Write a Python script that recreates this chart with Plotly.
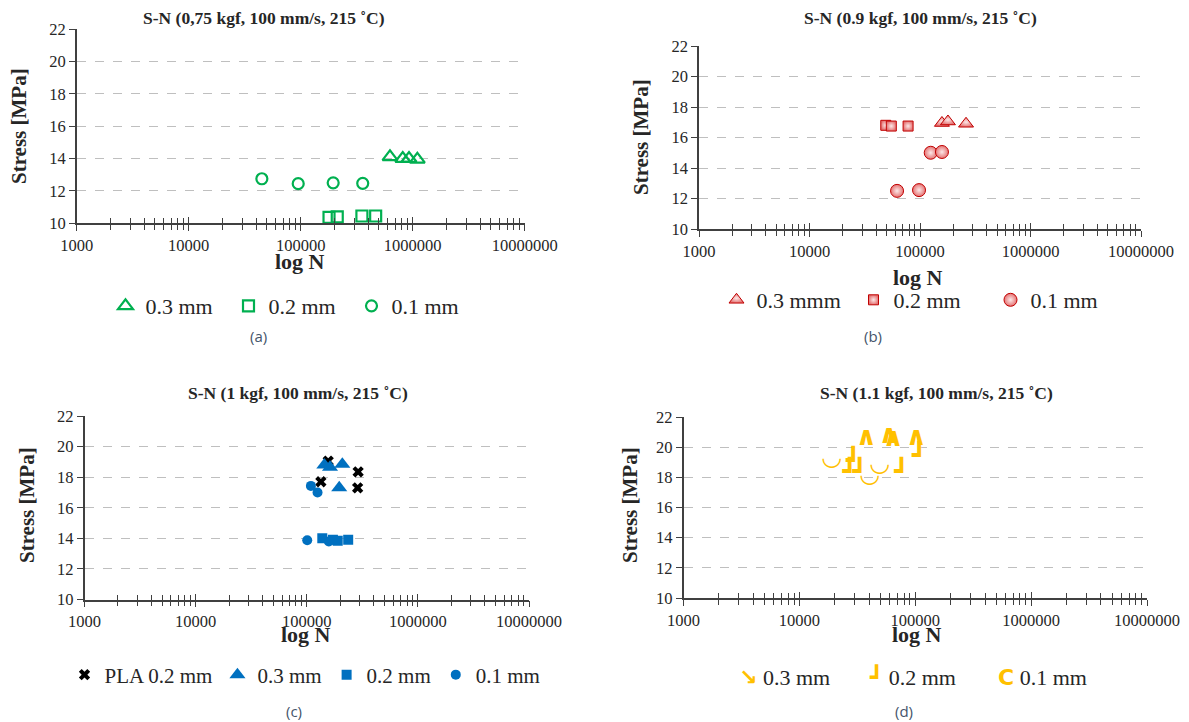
import plotly.graph_objects as go

# ---------------- data ----------------
# (a) 0,75 kgf
a_03_N = [627000, 815000, 927000, 1100000]
a_03_S = [14.1, 14.0, 14.0, 13.95]
a_02_N = [179000, 212000, 352000, 467000]
a_02_S = [10.37, 10.4, 10.45, 10.45]
a_01_N = [45000, 95000, 195000, 358000]
a_01_S = [12.75, 12.45, 12.5, 12.47]

# (b) 0.9 kgf
b_03_N = [158000, 179000, 261000]
b_03_S = [16.95, 17.05, 16.9]
b_02_N = [49000, 55000, 78000]
b_02_S = [16.8, 16.75, 16.75]
b_01_N = [62000, 98000, 125000, 158000]
b_01_S = [12.5, 12.55, 15.0, 15.05]

# (c) 1 kgf
c_pla_N = [156000, 134000, 290000, 287000]
c_pla_S = [19.05, 17.7, 18.35, 17.3]
c_03_N = [144000, 162000, 209000, 196000]
c_03_S = [18.8, 18.65, 18.85, 17.3]
c_02_N = [138000, 172000, 190000, 236000]
c_02_S = [14.0, 13.9, 13.85, 13.9]
c_01_N = [109000, 125000, 101000, 158000]
c_01_S = [17.43, 17.0, 13.88, 13.8]

# (d) 1.1 kgf
d_03_N = [37900, 59400, 64500, 102000]
d_03_S = [20.55, 20.7, 20.5, 20.6]
d_02_N = [29100, 27200, 33200, 76000, 108000]
d_02_S = [19.05, 18.3, 18.27, 18.27, 19.35]
d_01_N = [19000, 49400, 40500]
d_01_S = [19.2, 18.82, 18.1]

x_tick_vals = [1000, 10000, 100000, 1000000, 10000000]
x_tick_text = ["1000", "10000", "100000", "1000000", "10000000"]
y_tick_vals = [10, 12, 14, 16, 18, 20, 22]

titles = ["S-N (0,75 kgf, 100 mm/s, 215 ˚C)", "S-N (0.9 kgf, 100 mm/s, 215 ˚C)",
          "S-N (1 kgf, 100 mm/s, 215 ˚C)", "S-N (1.1 kgf, 100 mm/s, 215 ˚C)"]
captions = ["(a)", "(b)", "(c)", "(d)"]

# ---------------- layout geometry (pixels) ----------------
W, H = 1189, 722
# plot areas: left, right, top, bottom
areas = [(76.7, 524.7, 29, 223.3),
         (699, 1141, 46, 229),
         (84.5, 529, 416, 599.5),
         (683.5, 1147, 417, 598)]
title_pos = [(264, 18), (920, 18), (298, 393), (936, 393)]
logn_pos = [(300, 261), (918, 277), (306, 634), (917, 634)]
stress_pos = [(19, 126), (641, 137), (27, 505), (630, 505)]
cap_pos = [(258, 336), (873, 336), (294, 711), (904, 711)]

SERIF = "Liberation Serif"
TXT = "#262626"
AX = "#404040"

minor_vals = [m * 10 ** e for e in range(3, 7) for m in range(2, 10)]

def px(x):
    return x / W

def py(y):
    return 1 - y / H

fig = go.Figure()
GREEN = "#00B050"
RED = "#C00000"
BLUE = "#0070C0"
GOLD = "#FFC000"

# (a)
fig.add_trace(go.Scatter(x=a_03_N, y=a_03_S, mode="markers", name="0.3 mm", legend="legend",
                         marker=dict(symbol="triangle-up-open", size=13, color=GREEN, line=dict(width=2.2, color=GREEN)),
                         xaxis="x", yaxis="y"))
fig.add_trace(go.Scatter(x=a_02_N, y=a_02_S, mode="markers", name="0.2 mm", legend="legend",
                         marker=dict(symbol="square-open", size=11, color=GREEN, line=dict(width=2.2, color=GREEN)),
                         xaxis="x", yaxis="y"))
fig.add_trace(go.Scatter(x=a_01_N, y=a_01_S, mode="markers", name="0.1 mm", legend="legend",
                         marker=dict(symbol="circle-open", size=11, color=GREEN, line=dict(width=2.2, color=GREEN)),
                         xaxis="x", yaxis="y"))
# (b)
for xs, ys, sym, sz, nm in [(b_03_N, b_03_S, "triangle-up", 13, "0.3 mmm"),
                            (b_02_N, b_02_S, "square", 10, "0.2 mm"),
                            (b_01_N, b_01_S, "circle", 13, "0.1 mm")]:
    fig.add_trace(go.Scatter(x=xs, y=ys, mode="markers", name=nm, legend="legend2",
                             marker=dict(symbol=sym, size=sz, color="#E57373",
                                         gradient=dict(type="radial", color="#FCE8E8"),
                                         line=dict(width=1, color=RED)),
                             xaxis="x2", yaxis="y2"))
# (c)
fig.add_trace(go.Scatter(x=c_pla_N, y=c_pla_S, mode="markers", name="PLA 0.2 mm", legend="legend3",
                         marker=dict(symbol="x", size=10, color="black", line=dict(width=0)),
                         xaxis="x3", yaxis="y3"))
for xs, ys, sym, sz, nm in [(c_03_N, c_03_S, "triangle-up", 14, "0.3 mm"),
                            (c_02_N, c_02_S, "square", 10, "0.2 mm"),
                            (c_01_N, c_01_S, "circle", 10, "0.1 mm")]:
    fig.add_trace(go.Scatter(x=xs, y=ys, mode="markers", name=nm, legend="legend3",
                             marker=dict(symbol=sym, size=sz, color=BLUE, line=dict(width=0)),
                             xaxis="x3", yaxis="y3"))
# (d) odd glyph markers drawn as text
for xs, ys, glyph, sz in [(d_03_N, d_03_S, "∧", 26), (d_02_N, d_02_S, "┛", 24), (d_01_N, d_01_S, "◡", 24)]:
    fig.add_trace(go.Scatter(x=xs, y=ys, mode="text", text=[glyph] * len(xs), showlegend=False,
                             textfont=dict(family="DejaVu Sans", size=sz, color=GOLD, weight="bold"),
                             xaxis="x4", yaxis="y4"))

# empty traces for overlay axes (inner half of crossing ticks)
for i in range(4):
    fig.add_trace(go.Scatter(x=[], y=[], showlegend=False, xaxis=f"x{5 + i}", yaxis="y" if i == 0 else f"y{i + 1}"))

layout = dict(width=W, height=H, margin=dict(l=0, r=0, t=0, b=0, autoexpand=False),
              paper_bgcolor="white", plot_bgcolor="white", showlegend=True)

annotations = []
for i in range(4):
    l, r, t, b = areas[i]
    xs = "" if i == 0 else str(i + 1)
    layout[f"xaxis{xs}"] = dict(type="log", range=[3, 7], domain=[px(l), px(r)], anchor=f"y{xs}",
                                tickmode="array", tickvals=x_tick_vals, ticktext=x_tick_text,
                                ticks="outside", ticklen=6, tickwidth=1.3, tickcolor=AX,
                                minor=dict(tickmode="array", tickvals=minor_vals, ticks="outside",
                                           ticklen=5, tickwidth=1, tickcolor=AX),
                                showline=True, linecolor=AX, linewidth=1.5, showgrid=False, zeroline=False,
                                tickfont=dict(family=SERIF, size=16.5, color=TXT), fixedrange=True)
    layout[f"xaxis{5 + i}"] = dict(type="log", range=[3, 7], domain=[px(l), px(r)], anchor=f"y{xs}",
                                   overlaying=f"x{xs}", side="bottom",
                                   tickmode="array", tickvals=x_tick_vals, showticklabels=False,
                                   ticks="inside", ticklen=6, tickwidth=1.3, tickcolor=AX,
                                   minor=dict(tickmode="array", tickvals=minor_vals, ticks="inside",
                                              ticklen=5, tickwidth=1, tickcolor=AX),
                                   showline=False, showgrid=False, zeroline=False)
    layout[f"yaxis{xs}"] = dict(range=[10, 22], domain=[py(b), py(t)], anchor=f"x{xs}",
                                tickmode="array", tickvals=y_tick_vals,
                                ticks="outside", ticklen=6, tickwidth=1.3, tickcolor=AX,
                                showline=True, linecolor=AX, linewidth=1.5,
                                showgrid=True, gridcolor="#BFBFBF", griddash="dash", gridwidth=1,
                                zeroline=False, tickfont=dict(family=SERIF, size=16.5, color=TXT), fixedrange=True)
    tx, ty = title_pos[i]
    annotations.append(dict(text=f"<b>{titles[i]}</b>", x=px(tx), y=py(ty), xref="paper", yref="paper",
                            showarrow=False, xanchor="center", yanchor="middle",
                            font=dict(family=SERIF, size=17.5, color=TXT)))
    lx, ly = logn_pos[i]
    annotations.append(dict(text="<b>log N</b>", x=px(lx), y=py(ly), xref="paper", yref="paper",
                            showarrow=False, xanchor="center", yanchor="middle",
                            font=dict(family=SERIF, size=22, color=TXT)))
    sx, sy = stress_pos[i]
    annotations.append(dict(text="<b>Stress [MPa]</b>", x=px(sx), y=py(sy), xref="paper", yref="paper",
                            showarrow=False, xanchor="center", yanchor="middle", textangle=-90,
                            font=dict(family=SERIF, size=21, color=TXT)))
    cx, cy = cap_pos[i]
    annotations.append(dict(text=captions[i], x=px(cx), y=py(cy), xref="paper", yref="paper",
                            showarrow=False, xanchor="center", yanchor="middle",
                            font=dict(family="Open Sans", size=15, color="#44546A")))

# legend for (d) as text
d_leg = [("↘", "0.3 mm", 784), ("┛", "0.2 mm", 912), ("C", "0.1 mm", 1042)]
for g, t, x in d_leg:
    annotations.append(dict(text=f"<span style='color:{GOLD};font-family:DejaVu Sans'><b>{g}</b></span> {t}",
                            x=px(x), y=py(677), xref="paper", yref="paper", showarrow=False,
                            xanchor="center", yanchor="middle", font=dict(family=SERIF, size=22, color=TXT)))

leg_common = dict(orientation="h", xanchor="center", yanchor="middle", bgcolor="rgba(0,0,0,0)",
                  font=dict(family=SERIF, size=22, color=TXT), itemwidth=30,
                  entrywidthmode="pixels", traceorder="normal")
layout["legend"] = dict(leg_common, x=px(290), y=py(306), entrywidth=78)
layout["legend2"] = dict(leg_common, x=px(922), y=py(300), entrywidth=92)
layout["legend3"] = dict(leg_common, x=px(305), y=py(675), entrywidth=0,
                         font=dict(family=SERIF, size=21, color=TXT))
layout["annotations"] = annotations

fig.update_layout(**layout)
fig.write_html("out.html", config={"displayModeBar": False},
               post_script="document.body.style.margin='0';document.body.style.overflow='hidden';")
